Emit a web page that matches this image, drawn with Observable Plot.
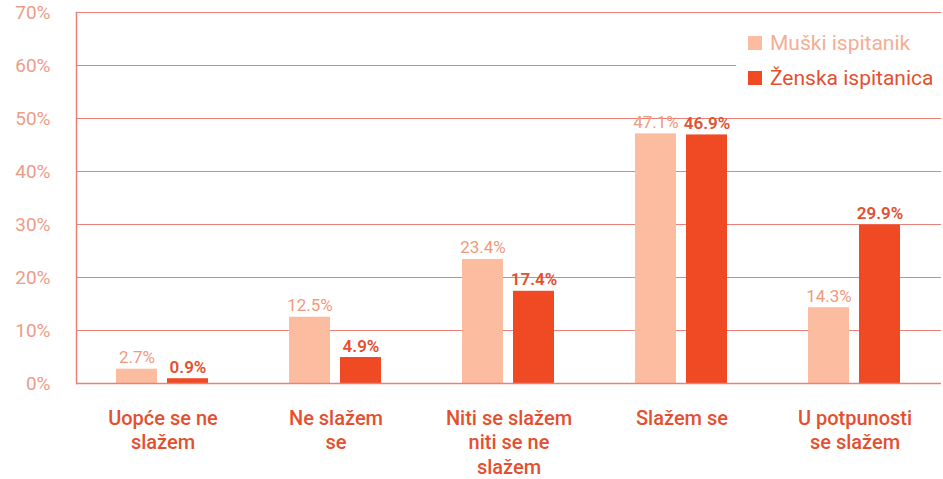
<!DOCTYPE html>
<html>
<head>
<meta charset="utf-8">
<script src="https://cdn.jsdelivr.net/npm/d3@7"></script>
<script src="https://cdn.jsdelivr.net/npm/@observablehq/plot@0.6"></script>
<style>
  html, body { margin: 0; padding: 0; background: #fff; }
  #wrap { position: relative; width: 943px; height: 479px; font-family: Roboto, "Liberation Sans", sans-serif; }
  #legend { position: absolute; left: 736px; top: 26px; width: 207px; height: 76px; background: #fff; }
  .li { position: absolute; left: 12px; display: flex; align-items: center; font-size: 21px; white-space: nowrap; }
  .sw { width: 14px; height: 14px; margin-right: 8px; }
</style>
</head>
<body>
<div id="wrap">
  <div id="chart"></div>
  <div id="legend"></div>
</div>
<script>
const categories = ["Uopće se ne slažem", "Ne slažem se", "Niti se slažem niti se ne slažem", "Slažem se", "U potpunosti se slažem"];
const categoryLabels = ["Uopće se ne\nslažem", "Ne slažem\nse", "Niti se slažem\nniti se ne\nslažem", "Slažem se", "U potpunosti\nse slažem"];
const series = ["Muški ispitanik", "Ženska ispitanica"];
const muski = [2.7, 12.5, 23.4, 47.1, 14.3];
const zenska = [0.9, 4.9, 17.4, 46.9, 29.9];
const yTicks = [0, 10, 20, 30, 40, 50, 60, 70];

const colors = ["#fbbc9f", "#f04a25"];
const labelColors = ["#f09a7c", "#e4502f"];
const gridColor = "#ec8078";

const data = [];
categories.forEach((c, i) => {
  data.push({cat: c, s: series[0], v: muski[i]});
  data.push({cat: c, s: series[1], v: zenska[i]});
});
const labels = categories.map((c, i) => ({cat: c, label: categoryLabels[i]}));

const chart = Plot.plot({
  width: 943,
  height: 479,
  marginLeft: 74,
  marginRight: 0,
  marginTop: 12,
  marginBottom: 96,
  style: {fontFamily: "Roboto, 'Liberation Sans', sans-serif", background: "#fff", overflow: "visible"},
  fx: {domain: categories, padding: 0, axis: null},
  x: {domain: series, axis: null, paddingInner: 0.19, paddingOuter: 0.77},
  y: {domain: [0, 70], axis: null},
  color: {domain: series, range: colors},
  marks: [
    Plot.ruleY(yTicks.filter(d => d > 0), {stroke: gridColor, strokeWidth: 1}),
    Plot.barY(data, {fx: "cat", x: "s", y: "v", fill: "s"}),
    Plot.text(data.filter(d => d.s === series[0]), {fx: "cat", x: "s", y: "v", text: d => d.v.toFixed(1) + "%", dy: -6, lineAnchor: "bottom", fill: labelColors[0], fontSize: 17}),
    Plot.text(data.filter(d => d.s === series[1]), {fx: "cat", x: "s", y: "v", text: d => d.v.toFixed(1) + "%", dy: -6, lineAnchor: "bottom", fill: labelColors[1], fontSize: 17, fontWeight: 600}),
    Plot.text(labels, {fx: "cat", frameAnchor: "bottom", dy: 24, lineAnchor: "top", text: "label", fill: "#e4502f", fontSize: 20, fontWeight: 500, lineHeight: 1.22}),
    Plot.ruleY([0], {stroke: gridColor, strokeWidth: 1.5}),
    Plot.axisY(yTicks, {facetAnchor: "left", anchor: "left", tickSize: 0, tickPadding: 26, tickFormat: d => d + "%", fill: "#ee9c87", fontSize: 19, label: null}),
    Plot.frame({anchor: "left", facetAnchor: "left", stroke: gridColor, strokeWidth: 1.5})
  ]
});
document.getElementById("chart").appendChild(chart);

const legend = document.getElementById("legend");
series.forEach((s, i) => {
  const row = document.createElement("div");
  row.className = "li";
  row.style.top = (i === 0 ? 5 : 40) + "px";
  row.style.color = i === 0 ? "#f5ae93" : "#e4502f";
  const sw = document.createElement("div");
  sw.className = "sw";
  sw.style.background = colors[i];
  row.appendChild(sw);
  row.appendChild(document.createTextNode(s));
  legend.appendChild(row);
});
</script>
</body>
</html>
